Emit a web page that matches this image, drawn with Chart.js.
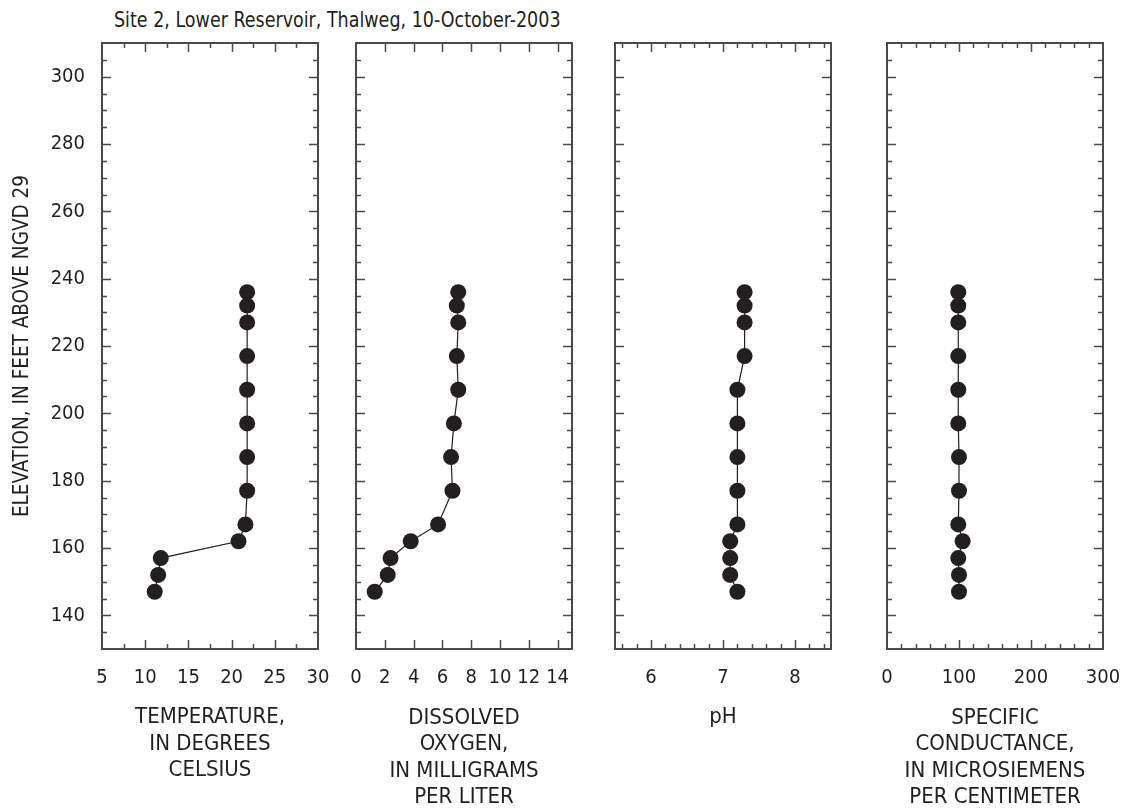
<!DOCTYPE html>
<html>
<head>
<meta charset="utf-8">
<script src="https://cdn.jsdelivr.net/npm/chart.js@4"></script>
<style>
  body { margin: 0; background: #fff; width: 1125px; height: 811px; position: relative; overflow: hidden;
         font-family: 'DejaVu Sans Condensed', 'DejaVu Sans', sans-serif; }
  .panel { position: absolute; top: 0; }
  #site-title { position: absolute; left: 114px; top: 9px; font-size: 22px; line-height: 22px; color: #231f20;
                white-space: nowrap; transform: scaleX(0.885); transform-origin: left top; }
</style>
</head>
<body>
<div id="site-title">Site 2, Lower Reservoir, Thalweg, 10-October-2003</div>
<canvas class="panel" id="temp-chart" width="335" height="811" style="left:0"></canvas>
<canvas class="panel" id="do-chart" width="250" height="811" style="left:335px"></canvas>
<canvas class="panel" id="ph-chart" width="262" height="811" style="left:585px"></canvas>
<canvas class="panel" id="sc-chart" width="278" height="811" style="left:847px"></canvas>
<script>
// profile readings, top of water column to bottom
const elevation = [236, 232, 227, 217, 207, 197, 187, 177, 167, 162, 157, 152, 147];
const temperature = [21.8, 21.8, 21.8, 21.8, 21.8, 21.8, 21.8, 21.8, 21.6, 20.8, 11.8, 11.5, 11.1];
const dissolvedOxygen = [7.1, 7.0, 7.1, 7.0, 7.1, 6.8, 6.6, 6.7, 5.7, 3.8, 2.4, 2.2, 1.3];
const ph = [7.3, 7.3, 7.3, 7.3, 7.2, 7.2, 7.2, 7.2, 7.2, 7.1, 7.1, 7.1, 7.2];
const conductance = [99, 99, 99, 99, 99, 99, 100, 100, 99, 105, 99, 100, 100];

// tick marks and labels
const elevTicks = [135, 140, 145, 150, 155, 160, 165, 170, 175, 180, 185, 190, 195, 200, 205, 210, 215, 220,
  225, 230, 235, 240, 245, 250, 255, 260, 265, 270, 275, 280, 285, 290, 295, 300, 305];
const elevLabels = [140, 160, 180, 200, 220, 240, 260, 280, 300];
const tempTicks = [5, 7.5, 10, 12.5, 15, 17.5, 20, 22.5, 25, 27.5, 30];
const tempLabels = [5, 10, 15, 20, 25, 30];
const doTicks = [0, 2, 4, 6, 8, 10, 12, 14];
const doLabels = [0, 2, 4, 6, 8, 10, 12, 14];
const phTicks = [5.6, 5.8, 6, 6.2, 6.4, 6.6, 6.8, 7, 7.2, 7.4, 7.6, 7.8, 8, 8.2, 8.4];
const phLabels = [6, 7, 8];
const scTicks = [0, 20, 40, 60, 80, 100, 120, 140, 160, 180, 200, 220, 240, 260, 280, 300];
const scLabels = [0, 100, 200, 300];

const ink = '#231f20';
const frameColor = '#4a4a4a';
const fontFamily = "'DejaVu Sans Condensed', 'DejaVu Sans', sans-serif";

const PLOT_TOP = 43;
const PLOT_BOTTOM = 649;

// box around the plot with inward ticks on all four sides
const frameTicks = {
  id: 'frameTicks',
  beforeDatasetsDraw(chart, args, opts) {
    const { ctx, chartArea: a, scales: { x, y } } = chart;
    ctx.save();
    ctx.strokeStyle = frameColor;
    ctx.lineWidth = 1.5;
    ctx.beginPath();
    x.ticks.forEach(t => {
      if (t.value <= x.min || t.value >= x.max) return;
      const px = Math.round(x.getPixelForValue(t.value)) + 0.5;
      const len = opts.xMajor(t.value) ? 9 : 5;
      ctx.moveTo(px, a.bottom); ctx.lineTo(px, a.bottom - len);
      ctx.moveTo(px, a.top); ctx.lineTo(px, a.top + len);
    });
    y.ticks.forEach(t => {
      if (t.value <= y.min || t.value >= y.max) return;
      const py = Math.round(y.getPixelForValue(t.value)) + 0.5;
      const len = elevLabels.includes(t.value) ? 9 : 5;
      ctx.moveTo(a.left, py); ctx.lineTo(a.left + len, py);
      ctx.moveTo(a.right, py); ctx.lineTo(a.right - len, py);
    });
    ctx.stroke();
    ctx.lineWidth = 2;
    ctx.strokeRect(a.left, a.top, a.width, a.height);
    ctx.restore();
  }
};

function makePanel(id, p) {
  const tickFont = { family: fontFamily, size: 20 };
  return new Chart(document.getElementById(id), {
    type: 'scatter',
    data: {
      datasets: [{
        data: p.values.map((v, i) => ({ x: v, y: elevation[i] })),
        showLine: true,
        borderColor: ink,
        borderWidth: 1.2,
        pointRadius: 8,
        pointHoverRadius: 8,
        pointBackgroundColor: ink,
        pointBorderWidth: 0
      }]
    },
    options: {
      responsive: false,
      animation: false,
      events: [],
      layout: { padding: { left: p.padLeft, right: p.padRight, top: PLOT_TOP, bottom: 0 } },
      plugins: {
        legend: { display: false },
        tooltip: { enabled: false },
        frameTicks: { xMajor: p.xMajor }
      },
      scales: {
        x: {
          type: 'linear',
          position: 'bottom',
          min: p.min,
          max: p.max,
          grid: { display: false, drawTicks: false },
          border: { display: false },
          afterBuildTicks: s => { s.ticks = p.ticks.map(v => ({ value: v })); },
          // fixed axis band; edge labels may hang past the plot box
          afterFit: s => { s.height = 811 - PLOT_BOTTOM; s.paddingLeft = 0; s.paddingRight = 0; },
          ticks: {
            autoSkip: false,
            maxRotation: 0,
            padding: 17,
            color: ink,
            font: tickFont,
            callback: v => p.labels.includes(v) ? String(v) : ''
          },
          title: {
            display: true,
            text: p.title,
            color: ink,
            font: { family: fontFamily, size: 22, lineHeight: 1.21 },
            padding: { top: 0, bottom: p.titlePad }
          }
        },
        y: {
          type: 'linear',
          position: 'left',
          min: 130,
          max: 310,
          grid: { display: false, drawTicks: false },
          border: { display: false },
          afterBuildTicks: s => { s.ticks = elevTicks.map(v => ({ value: v })); },
          afterFit: s => { s.width = p.yWidth; s.paddingTop = 0; s.paddingBottom = 0; },
          ticks: {
            display: p.yLabels,
            autoSkip: false,
            padding: 17,
            color: ink,
            font: tickFont,
            callback: v => elevLabels.includes(v) ? String(v) : ''
          },
          title: {
            display: p.yLabels,
            text: 'ELEVATION, IN FEET ABOVE NGVD 29',
            color: ink,
            font: { family: fontFamily, size: 20.5 },
            padding: { top: 10, bottom: 0 }
          }
        }
      }
    },
    plugins: [frameTicks]
  });
}

makePanel('temp-chart', {
  values: temperature, min: 5, max: 30, ticks: tempTicks, labels: tempLabels,
  xMajor: v => v % 5 === 0,
  title: ['TEMPERATURE,', 'IN DEGREES', 'CELSIUS'], titlePad: 27,
  padLeft: 0, padRight: 17, yWidth: 102, yLabels: true
});
makePanel('do-chart', {
  values: dissolvedOxygen, min: 0, max: 15, ticks: doTicks, labels: doLabels,
  xMajor: v => true,
  title: ['DISSOLVED', 'OXYGEN,', 'IN MILLIGRAMS', 'PER LITER'], titlePad: 0,
  padLeft: 21, padRight: 13, yWidth: 0, yLabels: false
});
makePanel('ph-chart', {
  values: ph, min: 5.5, max: 8.5, ticks: phTicks, labels: phLabels,
  xMajor: v => phLabels.includes(v),
  title: 'pH', titlePad: 80,
  padLeft: 30, padRight: 16, yWidth: 0, yLabels: false
});
makePanel('sc-chart', {
  values: conductance, min: 0, max: 300, ticks: scTicks, labels: scLabels,
  xMajor: v => v === 100 || v === 200,
  title: ['SPECIFIC', 'CONDUCTANCE,', 'IN MICROSIEMENS', 'PER CENTIMETER'], titlePad: 0,
  padLeft: 40, padRight: 22, yWidth: 0, yLabels: false
});
</script>
</body>
</html>
